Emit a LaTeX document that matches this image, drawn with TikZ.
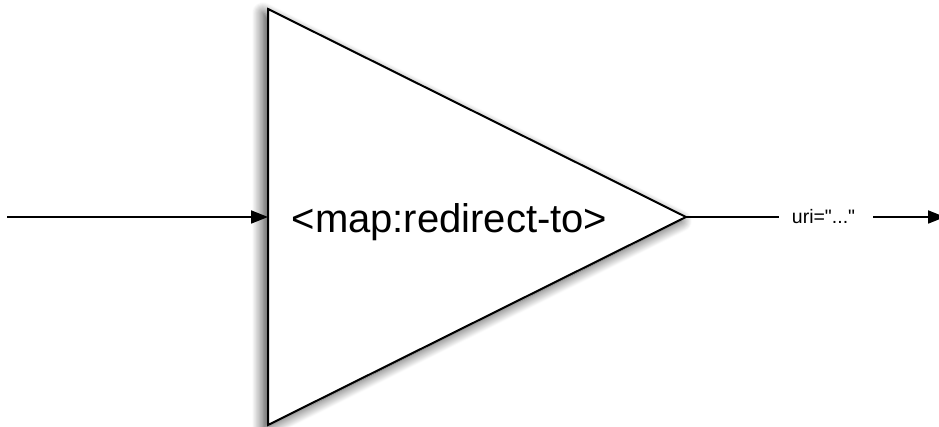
\documentclass[tikz,border=0pt]{standalone}
\usepackage{fontspec}
\setmainfont{Liberation Sans}[Ligatures=TeXOff]
\usetikzlibrary{arrows.meta,shadows.blur}
\tikzset{
  tri/.style={draw=black, line width=2pt, fill=white, line join=miter,
    blur shadow={shadow xshift=-5pt, shadow yshift=-4pt, shadow blur radius=11pt, shadow blur steps=14, shadow opacity=75}},
  conn/.style={draw=black, line width=1.8pt},
  arr/.style={conn, -{Triangle[length=17pt,width=13pt]}},
  bigtext/.style={font=\fontsize{40}{44}\selectfont, inner sep=0pt, anchor=base},
  smalltext/.style={font=\fontsize{19.5}{22}\selectfont, inner sep=0pt, anchor=base}
}
\begin{document}
\begin{tikzpicture}[x=1pt,y=-1pt]
\useasboundingbox (0,0) rectangle (939,427);
\coordinate (T) at (268,9);
\coordinate (B) at (268,425);
\coordinate (A) at (686,217);
\coordinate (L) at (268,217);
\coordinate (in) at (7,217);
\coordinate (o1) at (779,217);
\coordinate (o2) at (873,217);
\coordinate (out) at (945,217);
\path[tri] (T) -- (A) -- (B) -- cycle;
\node[bigtext] (lbl) at (449.5,233) {<map:redirect-to>};
\draw[arr] (in) -- (L);
\draw[conn] (A) -- (o1);
\node[smalltext] (uri) at (823.5,224) {uri="..."};
\draw[arr] (o2) -- (out);
\end{tikzpicture}
\end{document}
